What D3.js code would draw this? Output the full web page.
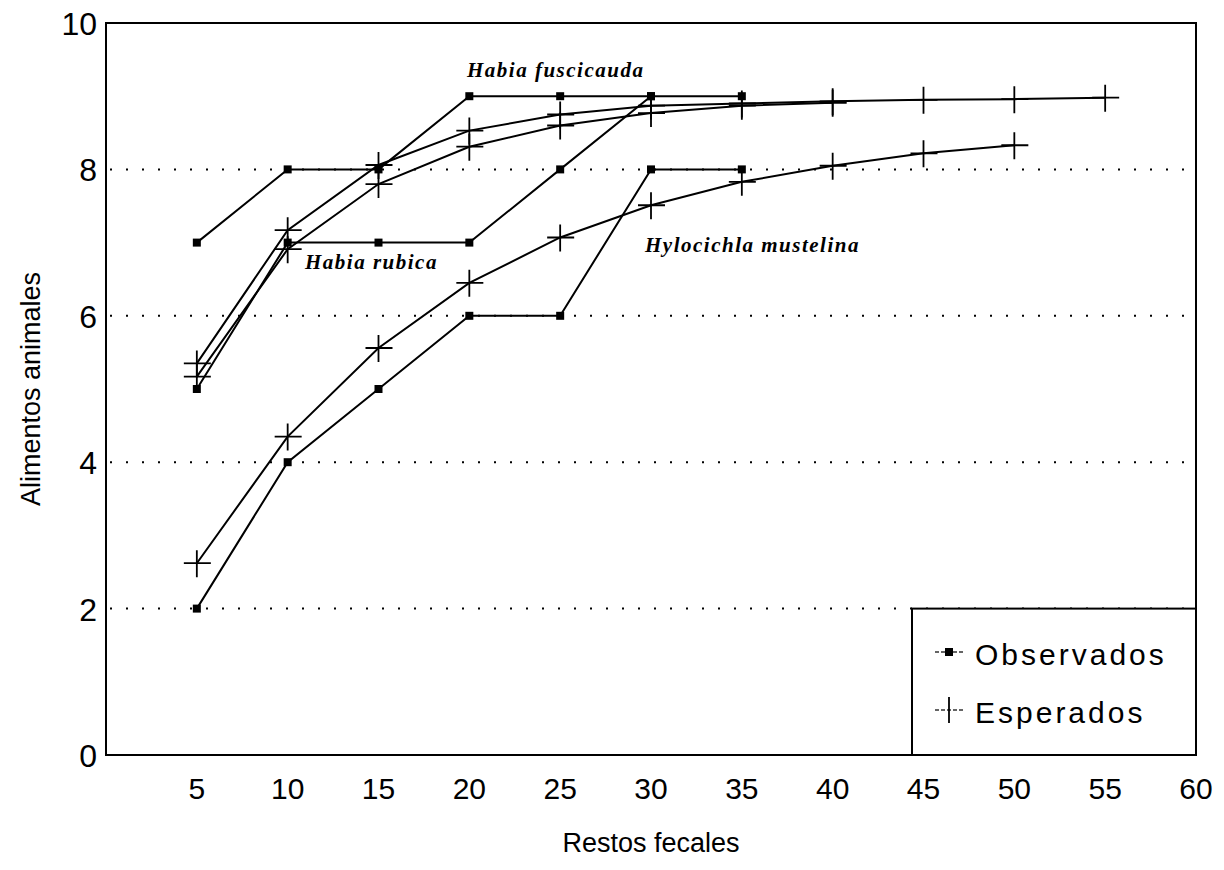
<!DOCTYPE html>
<html>
<head>
<meta charset="utf-8">
<title>Alimentos animales vs restos fecales</title>
<script src="https://cdn.jsdelivr.net/npm/d3@7"></script>
<style>
  body { margin: 0; background: #fff; }
  .tick-y { font-family: "Liberation Sans", Arial, sans-serif; font-size: 32px; }
  .tick-x { font-family: "Liberation Sans", Arial, sans-serif; font-size: 30px; }
  .axis-title { font-family: "Liberation Sans", Arial, sans-serif; font-size: 27px; }
  .species { font-family: "Liberation Serif", "Times New Roman", serif; font-style: italic; font-weight: bold; font-size: 21px; letter-spacing: 1.5px; }
  .legend-text { font-family: "Liberation Sans", Arial, sans-serif; font-size: 30px; letter-spacing: 3px; }
</style>
</head>
<body>
<svg id="chart" width="1224" height="870"></svg>
<script>
// observed (squares)
var fuscObsX = [5, 10, 15, 20, 25, 30, 35];
var fuscObsY = [7, 8, 8, 9, 9, 9, 9];
var rubObsX = [5, 10, 15, 20, 25, 30];
var rubObsY = [5, 7, 7, 7, 8, 9];
var hyloObsX = [5, 10, 15, 20, 25, 30, 35];
var hyloObsY = [2, 4, 5, 6, 6, 8, 8];

// expected (crosses)
var fuscExpX = [5, 10, 15, 20, 25, 30, 35, 40, 45, 50, 55];
var fuscExpY = [5.35, 7.17, 8.06, 8.53, 8.75, 8.87, 8.9, 8.93, 8.95, 8.96, 8.98];
var rubExpX = [5, 10, 15, 20, 25, 30, 35, 40];
var rubExpY = [5.17, 6.91, 7.8, 8.31, 8.6, 8.77, 8.87, 8.91];
var hyloExpX = [5, 10, 15, 20, 25, 30, 35, 40, 45, 50];
var hyloExpY = [2.62, 4.35, 5.56, 6.45, 7.07, 7.51, 7.83, 8.05, 8.22, 8.33];

var xTicks = [5, 10, 15, 20, 25, 30, 35, 40, 45, 50, 55, 60];
var yTicks = [0, 2, 4, 6, 8, 10];
var gridVals = [2, 4, 6, 8];

var speciesNames = ["Habia fuscicauda", "Habia rubica", "Hylocichla mustelina"];
var legendLabels = ["Observados", "Esperados"];

var pLeft = 106, pRight = 1196, pTop = 23, pBottom = 755;

var svg = d3.select("#chart");
var x = d3.scaleLinear().domain([0, 60]).range([pLeft, pRight]);
var y = d3.scaleLinear().domain([0, 10]).range([pBottom, pTop]);

function pts(xs, ys) {
  return xs.map(function(d, i) { return [d, ys[i]]; });
}

var line = d3.line()
  .x(function(d) { return x(d[0]); })
  .y(function(d) { return y(d[1]); });

// dotted grid
svg.append("g").selectAll("line")
  .data(gridVals)
  .enter().append("line")
  .attr("x1", pLeft + 4)
  .attr("x2", pRight)
  .attr("y1", function(d) { return y(d); })
  .attr("y2", function(d) { return y(d); })
  .attr("stroke", "#000")
  .attr("stroke-width", 2)
  .attr("stroke-dasharray", "2,14");

// y ticks
svg.append("g").selectAll("text")
  .data(yTicks)
  .enter().append("text")
  .attr("class", "tick-y")
  .attr("x", 97)
  .attr("y", function(d) { return y(d) + 12; })
  .attr("text-anchor", "end")
  .text(function(d) { return d; });

// x ticks
svg.append("g").selectAll("text")
  .data(xTicks)
  .enter().append("text")
  .attr("class", "tick-x")
  .attr("x", function(d) { return x(d); })
  .attr("y", 799)
  .attr("text-anchor", "middle")
  .text(function(d) { return d; });

svg.append("text")
  .attr("class", "axis-title")
  .attr("x", x(30))
  .attr("y", 852)
  .attr("text-anchor", "middle")
  .text("Restos fecales");

svg.append("text")
  .attr("class", "axis-title")
  .attr("transform", "translate(40," + y(5) + ") rotate(-90)")
  .attr("text-anchor", "middle")
  .text("Alimentos animales");

var observed = [pts(fuscObsX, fuscObsY), pts(rubObsX, rubObsY), pts(hyloObsX, hyloObsY)];
var expected = [pts(fuscExpX, fuscExpY), pts(rubExpX, rubExpY), pts(hyloExpX, hyloExpY)];

var allSeries = observed.concat(expected);
svg.append("g").selectAll("path")
  .data(allSeries)
  .enter().append("path")
  .attr("d", line)
  .attr("fill", "none")
  .attr("stroke", "#000")
  .attr("stroke-width", 2);

observed.forEach(function(s) {
  svg.append("g").selectAll("rect")
    .data(s)
    .enter().append("rect")
    .attr("x", function(d) { return x(d[0]) - 4; })
    .attr("y", function(d) { return y(d[1]) - 4; })
    .attr("width", 8)
    .attr("height", 8)
    .attr("fill", "#000");
});

var cross = "M-13,0H14M0,-13V14";
expected.forEach(function(s) {
  svg.append("g").selectAll("path")
    .data(s)
    .enter().append("path")
    .attr("d", cross)
    .attr("transform", function(d) { return "translate(" + x(d[0]) + "," + y(d[1]) + ")"; })
    .attr("stroke", "#000")
    .attr("stroke-width", 1.8)
    .attr("fill", "none");
});

// species labels
var labelPos = [[467, 77], [305, 269], [645, 252]];
svg.append("g").selectAll("text")
  .data(speciesNames)
  .enter().append("text")
  .attr("class", "species")
  .attr("x", function(d, i) { return labelPos[i][0]; })
  .attr("y", function(d, i) { return labelPos[i][1]; })
  .text(function(d) { return d; });

// frame
svg.append("rect")
  .attr("x", pLeft).attr("y", pTop)
  .attr("width", pRight - pLeft).attr("height", pBottom - pTop)
  .attr("fill", "none").attr("stroke", "#000").attr("stroke-width", 2);

// legend
var lg = svg.append("g");
lg.append("rect")
  .attr("x", 912).attr("y", y(2))
  .attr("width", pRight - 912).attr("height", pBottom - y(2))
  .attr("fill", "#fff").attr("stroke", "#000").attr("stroke-width", 2);

var legendY = [652, 710];
lg.selectAll("line.key")
  .data(legendLabels)
  .enter().append("line")
  .attr("x1", 935).attr("x2", 965)
  .attr("y1", function(d, i) { return legendY[i]; })
  .attr("y2", function(d, i) { return legendY[i]; })
  .attr("stroke", "#333").attr("stroke-width", 1.5)
  .attr("stroke-dasharray", "4,2");

lg.append("rect")
  .attr("x", 945).attr("y", legendY[0] - 4)
  .attr("width", 8).attr("height", 8)
  .attr("fill", "#000");

lg.append("line")
  .attr("x1", 949).attr("x2", 949)
  .attr("y1", legendY[1] - 13).attr("y2", legendY[1] + 13)
  .attr("stroke", "#000").attr("stroke-width", 1.8);

lg.selectAll("text")
  .data(legendLabels)
  .enter().append("text")
  .attr("class", "legend-text")
  .attr("x", 975)
  .attr("y", function(d, i) { return legendY[i] + 13; })
  .text(function(d) { return d; });
</script>
</body>
</html>
